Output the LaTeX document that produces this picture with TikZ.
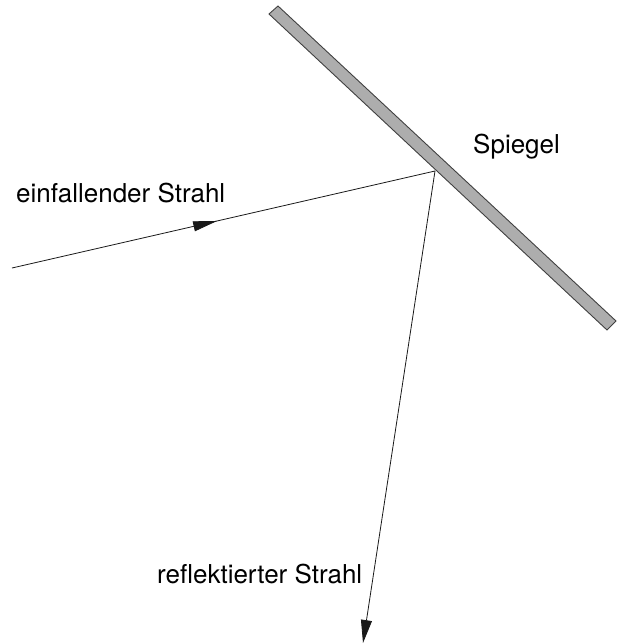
\documentclass[tikz,border=0pt]{standalone}
\usepackage{fontspec}
\setmainfont{TeX Gyre Heros}
\usepackage{tikz}
\usetikzlibrary{arrows.meta}
\usetikzlibrary{decorations.markings}
\usetikzlibrary{positioning}

\begin{document}
\begin{tikzpicture}[
  x=1pt, y=-1pt,
  every node/.style={font=\fontsize{26}{31}\selectfont, inner sep=0pt, anchor=base west},
  mirror/.style={fill=black!32, draw=black!75, line width=0.9pt},
  ray/.style={line width=0.8pt, draw=black!90},
  midarrow/.style={
    postaction={decorate},
    decoration={markings,
      mark=at position 0.485 with {\arrow{Triangle[length=24pt,width=10pt]}}}
  },
  endarrow/.style={-{Triangle[length=23pt,width=11pt]}}
]
\useasboundingbox (0,0) rectangle (616,644);

% Mirror
\filldraw[mirror] (269,14) -- (278,6) -- (616,321) -- (607,330) -- cycle;

% Points
\coordinate (src) at (12,268);
\coordinate (hit) at (435,171);
\coordinate (out) at (363,643);

% Labels
\node (incident) at (16,203) {einfallender Strahl};
\node (spiegel) at (473,154) {Spiegel};
\node (reflected) at (157,583) {reflektierter Strahl};

% Rays
\draw[ray, midarrow] (src) -- (hit);
\draw[ray, endarrow] (hit) -- (out);
\end{tikzpicture}
\end{document}
